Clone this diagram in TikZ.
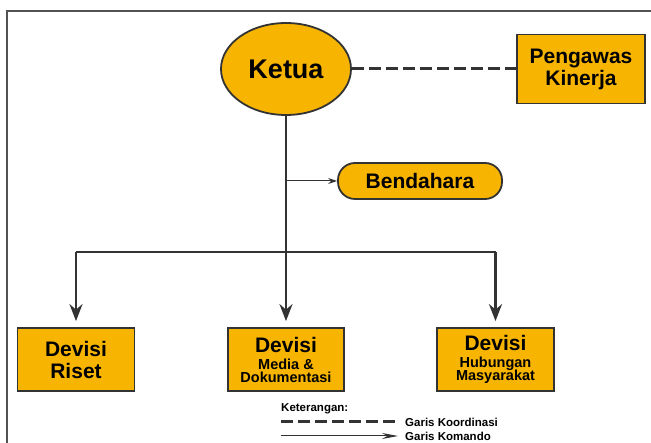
\documentclass[tikz,border=0pt]{standalone}
\usepackage{fontspec}
\setmainfont{Liberation Sans}
\usetikzlibrary{shapes.geometric,arrows.meta}
\definecolor{kuning}{HTML}{F7B400}
\definecolor{garis}{HTML}{333333}

\tikzset{
  kotak/.style={draw=garis, line width=1.8pt, fill=kuning, align=center, inner sep=0pt},
  pokok/.style={draw=garis, line width=2.6pt},
  komando/.style={pokok, -{Stealth[length=17pt,width=13pt]}, shorten >=6pt},
  koordinasi/.style={draw=garis, line width=3pt, dash pattern=on 12pt off 5pt},
  tipis/.style={draw=garis, line width=1pt, -{Stealth[length=9pt,width=6pt]}},
  besar/.style={font=\bfseries\fontsize{21}{22}\selectfont},
  kecil/.style={font=\bfseries\fontsize{11.5}{13}\selectfont, anchor=west, inner sep=0pt}
}
\newcommand{\subjudul}[1]{{\fontsize{14.5}{14}\selectfont #1}}

\begin{document}
\begin{tikzpicture}[x=1pt,y=-1pt]
\useasboundingbox (0,0) rectangle (651,443);
\draw[draw=garis!85, line width=1.5pt] (7,443) -- (7,11) -- (651,11);

\node[ellipse, kotak, minimum width=130pt, minimum height=92pt,
      font=\bfseries\fontsize{27}{30}\selectfont] (ketua) at (286,69) {Ketua};
\node[kotak, besar, minimum width=128pt, minimum height=69pt] (pengawas) at (581,69) {Pengawas\\Kinerja};
\node[kotak, besar, rounded corners=17pt, minimum width=164pt, minimum height=36pt] (bendahara) at (420,181) {Bendahara};
\node[kotak, besar, minimum width=117pt, minimum height=63pt] (riset) at (76,359.5) {Devisi\\Riset};
\node[kotak, besar, minimum width=116pt, minimum height=63pt] (media) at (286,359.5) {Devisi\\[-5pt]\subjudul{Media \&}\\[-9pt]\subjudul{Dokumentasi}};
\node[kotak, besar, minimum width=117pt, minimum height=63pt] (masyarakat) at (495.5,359.5) {Devisi\\[-5pt]\subjudul{Hubungan}\\[-9pt]\subjudul{Masyarakat}};

% garis komando
\coordinate (cabang) at (286,252);
\draw[komando] (ketua.south) -- (media.north);
\draw[pokok] (riset.north |- cabang) -- (masyarakat.north |- cabang);
\draw[komando] (riset.north |- cabang) -- (riset.north);
\draw[komando] (masyarakat.north |- cabang) -- (masyarakat.north);
\draw[tipis] (ketua.south |- bendahara.west) -- (bendahara.west);

% garis koordinasi
\draw[koordinasi] (ketua.east) -- (pengawas.west);

% keterangan
\node[kecil] (keterangan) at (281,409) {Keterangan:};
\node[kecil] (lkoordinasi) at (405,422) {Garis Koordinasi};
\node[kecil] (lkomando) at (405,436) {Garis Komando};
\draw[koordinasi] (keterangan.west |- lkoordinasi) -- ([xshift=-8pt]lkoordinasi.west);
\draw[draw=garis, line width=1pt, -{Stealth[length=16pt,width=6pt]}] (keterangan.west |- lkomando) -- ([xshift=-7pt]lkomando.west);
\end{tikzpicture}
\end{document}
